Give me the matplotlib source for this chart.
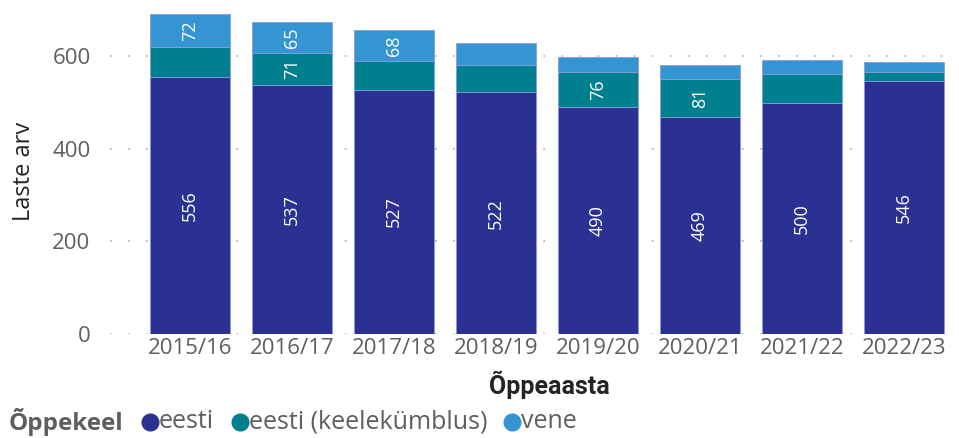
import matplotlib
matplotlib.use('Agg')
import matplotlib.pyplot as plt
from matplotlib.lines import Line2D
import numpy as np

years = ['2015/16', '2016/17', '2017/18', '2018/19',
         '2019/20', '2020/21', '2021/22', '2022/23']
eesti = [556, 537, 527, 522, 490, 469, 500, 546]
kylbus = [63, 71, 62, 59, 76, 81, 62, 20]
vene = [72, 65, 68, 47, 33, 32, 31, 22]

# which segments get a value label (like the original)
show_kylbus = [False, True, False, False, True, True, False, False]
show_vene = [True, True, True, False, False, False, False, False]

c_eesti = '#2B3192'
c_kylbus = '#00808F'
c_vene = '#3595D3'
gray = '#605E5C'

plt.rcParams['font.family'] = ['Open Sans', 'DejaVu Sans']

fig = plt.figure(figsize=(9.59, 4.38), dpi=100)
W, H = 959, 438
ax = fig.add_axes([110 / W, (H - 334) / H, 843 / W, 324 / H])

x = np.arange(len(years))
bw = 0.78
edge = dict(edgecolor='#8A9AD8', linewidth=0.6)
ax.bar(x, eesti, bw, color=c_eesti, zorder=2, **edge)
bot2 = np.array(eesti)
ax.bar(x, kylbus, bw, bottom=bot2, color=c_kylbus, zorder=2, **edge)
bot3 = bot2 + np.array(kylbus)
ax.bar(x, vene, bw, bottom=bot3, color=c_vene, zorder=2, **edge)

lbl = dict(color='white', rotation=90, ha='center', va='center',
           fontsize=13, zorder=3)
for i in x:
    ax.text(i, eesti[i] / 2, str(eesti[i]), **lbl)
    if show_kylbus[i]:
        ax.text(i, bot2[i] + kylbus[i] / 2, str(kylbus[i]), **lbl)
    if show_vene[i]:
        ax.text(i, bot3[i] + vene[i] / 2, str(vene[i]), **lbl)

ax.set_xlim(-0.784, 7.48)
ax.set_ylim(0, 700)
ax.set_yticks([0, 200, 400, 600])
ax.set_xticks(x)
ax.set_xticklabels(years)
ax.tick_params(length=0, colors=gray, labelsize=16)
ax.tick_params(axis='y', pad=14)
ax.tick_params(axis='x', pad=3)
ax.grid(axis='y', color='#BDBBB9', linestyle=(0, (1, 9)), linewidth=1.3, zorder=0)
for s in ax.spines.values():
    s.set_visible(False)

fig.text(24 / W, 1 - 171 / H, 'Laste arv', rotation=90, ha='center',
         va='center', fontsize=17, color='#252423')
fig.text(549 / W, 1 - 385 / H, 'Õppeaasta', ha='center', va='center',
         fontsize=18, fontweight='bold', color='#252423',
         family=['Roboto', 'DejaVu Sans'])

# legend row
ly = 1 - 422 / H
fig.text(9 / W, ly, 'Õppekeel', ha='left', va='center', fontsize=17.5,
         fontweight='bold', color=gray)
items = [(150, c_eesti, 'eesti'), (240, c_kylbus, 'eesti (keelekümblus)'),
         (512, c_vene, 'vene')]
for px, col, name in items:
    fig.add_artist(Line2D([px / W], [ly], marker='o', markersize=12,
                          color=col, transform=fig.transFigure))
    fig.text((px + 9) / W, ly, name, ha='left', va='center',
             fontsize=18, color=gray)

fig.savefig('out.png', dpi=100)
